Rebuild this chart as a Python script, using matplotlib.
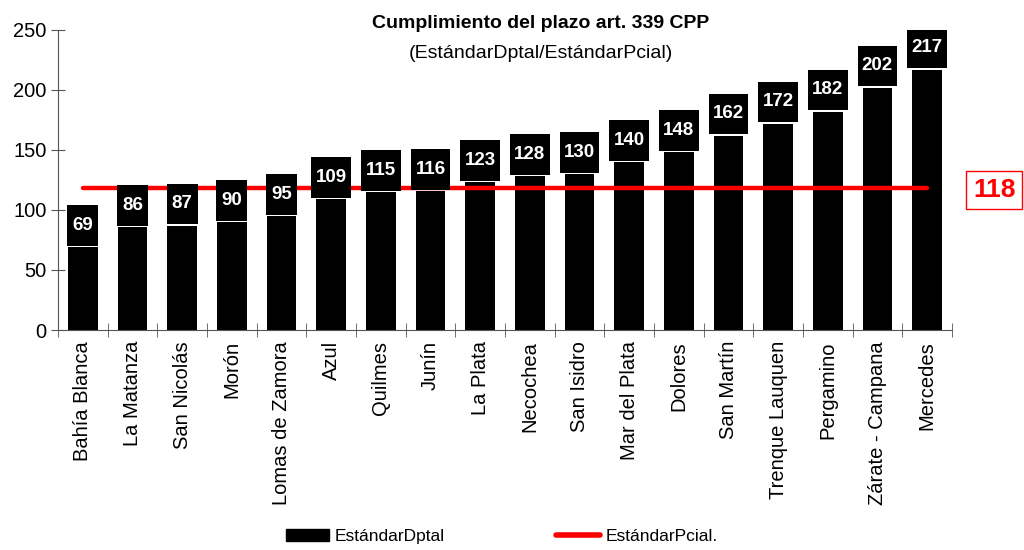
import numpy as np
import matplotlib.pyplot as plt
from matplotlib.patches import Patch
from matplotlib.lines import Line2D

plt.rcParams['font.family'] = ['Liberation Sans', 'DejaVu Sans']

deptos = ['Bahía Blanca', 'La Matanza', 'San Nicolás', 'Morón', 'Lomas de Zamora',
          'Azul', 'Quilmes', 'Junín', 'La Plata', 'Necochea', 'San Isidro',
          'Mar del Plata', 'Dolores', 'San Martín', 'Trenque Lauquen', 'Pergamino',
          'Zárate - Campana', 'Mercedes']
valores = [69, 86, 87, 90, 95, 109, 115, 116, 123, 128, 130, 140, 148, 162, 172, 182, 202, 217]
estandar_pcial = 118

fig = plt.figure(figsize=(10.24, 5.5), dpi=100)
ax = fig.add_axes([0.0566, 0.4, 0.873, 0.5455])

x = np.arange(len(deptos))
vals = np.array(valores)

ax.bar(x, vals, width=0.6, color='black', zorder=2)
ax.plot([x[0], x[-1]], [estandar_pcial, estandar_pcial], color='#ff0000',
        linewidth=3.2, solid_capstyle='round', zorder=3)

# value boxes above each bar
box_w = [0.62 if v < 100 else 0.8 for v in valores]
ax.bar(x, 34, bottom=vals + 1, width=box_w, color='black', zorder=4)
for xi, v in zip(x, valores):
    ax.text(xi, v + 18, str(v), color='white', fontsize=13.5, fontweight='bold',
            ha='center', va='center', zorder=5)

ax.set_xlim(-0.5, len(deptos) - 0.5)
ax.set_ylim(0, 250)
ax.set_yticks(range(0, 251, 50))
ax.set_xticks(x)
ax.set_xticklabels(deptos, rotation=90, fontsize=14.5)
ax.set_xticks(np.arange(-0.5, len(deptos)), minor=True)
ax.tick_params(axis='x', which='major', length=0, pad=8)
ax.tick_params(axis='x', which='minor', direction='inout', length=10, color='#555555')
ax.tick_params(axis='y', direction='inout', length=10, color='#555555', labelsize=14.5, pad=3)

for s in ['top', 'right']:
    ax.spines[s].set_visible(False)
for s in ['left', 'bottom']:
    ax.spines[s].set_color('#555555')

fig.text(0.528, 0.958, 'Cumplimiento del plazo art. 339 CPP', ha='center', va='center',
         fontsize=14, fontweight='bold')
fig.text(0.528, 0.903, '(EstándarDptal/EstándarPcial)', ha='center', va='center',
         fontsize=14)

fig.text(0.971, 0.6545, str(estandar_pcial), color='#ff0000', fontsize=19, fontweight='bold',
         ha='center', va='center',
         bbox=dict(boxstyle='square,pad=0.26', facecolor='white', edgecolor='#ff0000', linewidth=1))

handles = [Patch(facecolor='black', edgecolor='black'),
           Line2D([], [], color='#ff0000', linewidth=4, solid_capstyle='round')]
fig.legend(handles, ['EstándarDptal', 'EstándarPcial.'], loc='lower center',
           bbox_to_anchor=(0.49, -0.012), ncol=2, frameon=False, fontsize=12.5,
           handlelength=2.5, columnspacing=6.4, handletextpad=0.35,
           borderpad=0.2)

fig.savefig('out.png', dpi=100)
